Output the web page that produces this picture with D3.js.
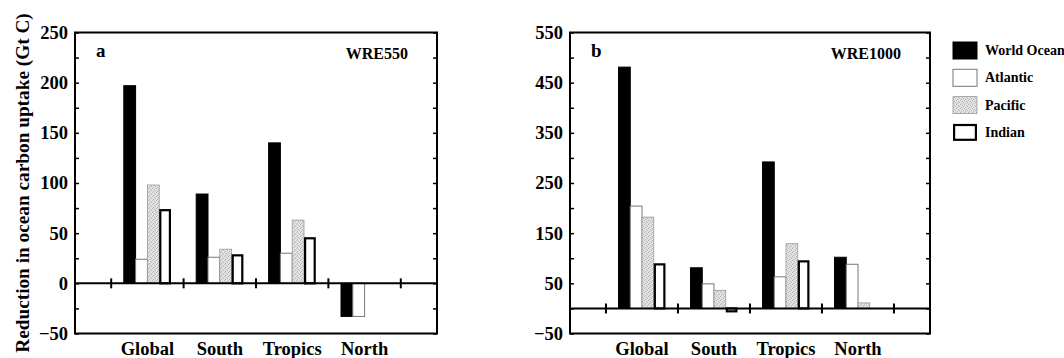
<!DOCTYPE html>
<html>
<head>
<meta charset="utf-8">
<script src="https://cdn.jsdelivr.net/npm/d3@7"></script>
<style>
  html, body { margin: 0; padding: 0; background: #fff; }
  svg { display: block; font-family: "Liberation Serif", "Times New Roman", serif; font-weight: bold; }
</style>
</head>
<body>
<svg id="chart" width="1064" height="358"></svg>
<script>
// Regions and ocean basins
const regions = ["Global", "South", "Tropics", "North"];
const basins = ["World Ocean", "Atlantic", "Pacific", "Indian"];

// Reduction in ocean carbon uptake (Gt C), one array per basin, ordered by region
const wre550WorldOcean = [197, 89, 140, -33];
const wre550Atlantic   = [24, 26, 30, -33];
const wre550Pacific    = [98, 34, 63, 0];
const wre550Indian     = [74, 29, 46, 0];

const wre1000WorldOcean = [481, 81, 292, 102];
const wre1000Atlantic   = [204, 49, 63, 88];
const wre1000Pacific    = [182, 36, 129, 11];
const wre1000Indian     = [90, -8, 96, 0];

// Axis ticks
const ticks550 = [250, 200, 150, 100, 50, 0, -50];
const ticks1000 = [550, 450, 350, 250, 150, 50, -50];

const svg = d3.select("#chart");

// Stippled fill for the Pacific bars
const defs = svg.append("defs");
const pat = defs.append("pattern")
  .attr("id", "stipple").attr("patternUnits", "userSpaceOnUse")
  .attr("width", 4).attr("height", 4);
pat.append("rect").attr("width", 4).attr("height", 4).attr("fill", "#e2e2e2");
[[0, 0], [2, 1], [1, 3], [3, 2]].forEach(([x, y]) =>
  pat.append("rect").attr("x", x).attr("y", y).attr("width", 1).attr("height", 1).attr("fill", "#b4b4b4"));

const barStyle = {
  "World Ocean": { fill: "#000", stroke: "#000", sw: 1 },
  "Atlantic":    { fill: "#fff", stroke: "#777", sw: 1 },
  "Pacific":     { fill: "url(#stipple)", stroke: "#999", sw: 0.8 },
  "Indian":      { fill: "#fff", stroke: "#000", sw: 2.2 }
};

function panel(opts) {
  const { left, top, width, height, domain, ticks, minorStep, rightStep, series, letter, name } = opts;
  const g = svg.append("g");
  const y = d3.scaleLinear().domain(domain).range([top + height, top]);
  // continuous x: regions at 1..4, dividers at the half steps
  const x = d3.scaleLinear().domain([0, 5]).range([left, left + width]);
  const band = x(1) - x(0);
  const bw = band * 0.163;

  // bars (zero values coincide with the zero line)
  basins.forEach((b, bi) => {
    const st = barStyle[b];
    series[bi].forEach((v, ri) => {
      if (v === 0) return;
      const x0 = x(ri + 1) - 2 * bw + bi * bw;
      const y0 = y(Math.max(v, 0)), y1 = y(Math.min(v, 0));
      const inset = st.sw > 1.5 ? st.sw / 2 : 0;
      g.append("rect")
        .attr("x", x0 + inset).attr("y", y0 + (v >= 0 ? inset : 0))
        .attr("width", bw - 2 * inset)
        .attr("height", Math.max(0.01, y1 - y0 - inset))
        .attr("fill", st.fill).attr("stroke", st.stroke).attr("stroke-width", st.sw);
    });
  });

  // zero line with divider ticks
  g.append("line").attr("x1", left).attr("x2", left + width)
    .attr("y1", y(0)).attr("y2", y(0)).attr("stroke", "#000").attr("stroke-width", 2);
  [0.5, 1.5, 2.5, 3.5, 4.5].forEach(d => {
    g.append("line").attr("x1", x(d)).attr("x2", x(d))
      .attr("y1", y(0) - 5).attr("y2", y(0) + 5).attr("stroke", "#000").attr("stroke-width", 2);
  });

  // left axis: minor ticks drawn inward
  const leftAxis = d3.axisRight(y).tickValues(d3.range(domain[0], domain[1] + 0.1, minorStep))
    .tickSize(4).tickFormat("");
  g.append("g").attr("transform", `translate(${left},0)`).call(leftAxis)
    .call(s => s.select(".domain").remove())
    .call(s => s.selectAll("line").attr("stroke-width", 1.5));
  const labels = d3.axisLeft(y).tickValues(ticks).tickSize(0).tickPadding(7)
    .tickFormat(d => d < 0 ? "\u2212" + Math.abs(d) : d);
  g.append("g").attr("transform", `translate(${left},0)`).call(labels)
    .call(s => s.select(".domain").remove())
    .call(s => s.selectAll("text").attr("font-size", 18.5).attr("font-family", "Liberation Serif").attr("font-weight", "bold").attr("fill", "#000"));

  // right axis ticks
  const rightAxis = d3.axisLeft(y).tickValues(d3.range(domain[0], domain[1] + 0.1, rightStep))
    .tickSize(4).tickFormat("");
  g.append("g").attr("transform", `translate(${left + width},0)`).call(rightAxis)
    .call(s => s.select(".domain").remove())
    .call(s => s.selectAll("line").attr("stroke-width", 1.5));

  // frame
  g.append("rect").attr("x", left).attr("y", top).attr("width", width).attr("height", height)
    .attr("fill", "none").attr("stroke", "#000").attr("stroke-width", 2);

  // region labels
  regions.forEach((r, i) => {
    g.append("text").attr("x", x(i + 1)).attr("y", 355).attr("text-anchor", "middle")
      .attr("font-size", 18.5).text(r);
  });

  g.append("text").attr("x", left + 21).attr("y", top + 24).attr("font-size", 19).text(letter);
  g.append("text").attr("x", left + width - 29).attr("y", top + 26).attr("text-anchor", "end")
    .attr("font-size", 16).text(name);
}

panel({
  left: 75, top: 32.5, width: 362, height: 301, domain: [-50, 250], ticks: ticks550,
  minorStep: 25, rightStep: 25, letter: "a", name: "WRE550",
  series: [wre550WorldOcean, wre550Atlantic, wre550Pacific, wre550Indian]
});
panel({
  left: 570, top: 32.5, width: 360, height: 301, domain: [-50, 550], ticks: ticks1000,
  minorStep: 50, rightStep: 50, letter: "b", name: "WRE1000",
  series: [wre1000WorldOcean, wre1000Atlantic, wre1000Pacific, wre1000Indian]
});

// y-axis title
svg.append("text").attr("transform", "translate(29,183) rotate(-90)")
  .attr("text-anchor", "middle").attr("font-size", 19.3)
  .text("Reduction in ocean carbon uptake (Gt C)");

// legend
const leg = svg.append("g");
basins.forEach((b, i) => {
  const st = barStyle[b];
  const yy = 42 + i * 27.3;
  const inset = st.sw > 1.5 ? st.sw / 2 : 0;
  leg.append("rect").attr("x", 953 + inset).attr("y", yy + inset).attr("width", 24 - 2 * inset).attr("height", 17 - 2 * inset)
    .attr("fill", st.fill).attr("stroke", st.stroke).attr("stroke-width", st.sw);
  leg.append("text").attr("x", 985).attr("y", yy + 13).attr("font-size", 14).text(b);
});
</script>
</body>
</html>
